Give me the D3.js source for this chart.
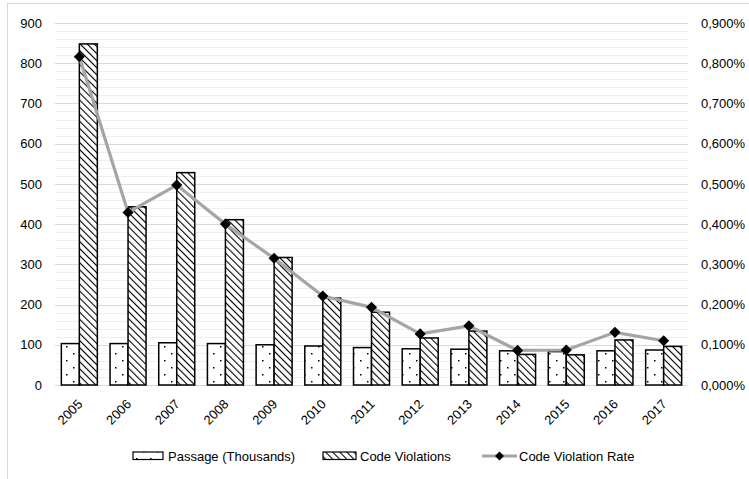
<!DOCTYPE html>
<html>
<head>
<meta charset="utf-8">
<script src="https://cdn.jsdelivr.net/npm/d3@7"></script>
<style>
  html, body { margin: 0; padding: 0; background: #fff; }
  svg { display: block; font-family: "Liberation Sans", Arial, sans-serif; }
</style>
</head>
<body>
<svg id="chart" width="749" height="479"></svg>
<script>
const years = ["2005","2006","2007","2008","2009","2010","2011","2012","2013","2014","2015","2016","2017"];
const passage = [103, 103, 105, 103, 100, 97, 93, 90, 89, 85, 83, 85, 87];
const violations = [848, 443, 528, 411, 317, 216, 181, 117, 134, 76, 75, 112, 96];
const rate = [0.816, 0.429, 0.497, 0.400, 0.315, 0.221, 0.193, 0.127, 0.147, 0.086, 0.087, 0.131, 0.110];
const leftTicks = [0, 100, 200, 300, 400, 500, 600, 700, 800, 900];
const rightTicks = [0, 0.1, 0.2, 0.3, 0.4, 0.5, 0.6, 0.7, 0.8, 0.9];
const legendLabels = ["Passage (Thousands)", "Code Violations", "Code Violation Rate"];

const svg = d3.select("#chart");
const plotL = 55, plotR = 688, plotT = 23, plotB = 385;

const x = d3.scaleBand().domain(years).range([plotL, plotR]).padding(0);
const y = d3.scaleLinear().domain([0, 900]).range([plotB, plotT]);
const y2 = d3.scaleLinear().domain([0, 0.9]).range([plotB, plotT]);

// patterns
const defs = svg.append("defs");
const dots = defs.append("pattern").attr("id", "dots").attr("patternUnits", "userSpaceOnUse")
  .attr("width", 14).attr("height", 14);
dots.append("rect").attr("width", 14).attr("height", 14).attr("fill", "#fff");
dots.append("rect").attr("x", 3).attr("y", 3).attr("width", 1.5).attr("height", 1.5).attr("fill", "#000");
dots.append("rect").attr("x", 10).attr("y", 10).attr("width", 1.5).attr("height", 1.5).attr("fill", "#000");

const hatch = defs.append("pattern").attr("id", "hatch").attr("patternUnits", "userSpaceOnUse")
  .attr("width", 5).attr("height", 5).attr("patternTransform", "rotate(-45)");
hatch.append("rect").attr("width", 5).attr("height", 5).attr("fill", "#fff");
hatch.append("line").attr("x1", 0).attr("y1", 0).attr("x2", 0).attr("y2", 5)
  .attr("stroke", "#000").attr("stroke-width", 2.2);

// frame
svg.append("rect").attr("x", 7.5).attr("y", 3.5).attr("width", 800).attr("height", 600)
  .attr("fill", "none").attr("stroke", "#d9d9d9").attr("stroke-width", 1);

// minor gridlines
const minor = d3.range(20, 900, 20).filter(v => v % 100 !== 0);
svg.append("g").selectAll("line").data(minor).join("line")
  .attr("x1", plotL).attr("x2", plotR)
  .attr("y1", d => Math.round(y(d)) + 0.5).attr("y2", d => Math.round(y(d)) + 0.5)
  .attr("stroke", "#efefef").attr("stroke-width", 1);
// major gridlines
svg.append("g").selectAll("line").data(leftTicks).join("line")
  .attr("x1", plotL).attr("x2", plotR)
  .attr("y1", d => Math.round(y(d)) + 0.5).attr("y2", d => Math.round(y(d)) + 0.5)
  .attr("stroke", "#d9d9d9").attr("stroke-width", 1.2);

// left axis
const yAxis = svg.append("g").attr("transform", `translate(${plotL},0)`)
  .call(d3.axisLeft(y).tickValues(leftTicks).tickSize(0).tickPadding(13));
yAxis.select(".domain").remove();
yAxis.selectAll("text").attr("font-size", 13).attr("fill", "#000");

// right axis
const fmtPct = v => d3.format(".3f")(v).replace(".", ",") + "%";
const y2Axis = svg.append("g").attr("transform", `translate(${plotR},0)`)
  .call(d3.axisRight(y2).tickValues(rightTicks).tickFormat(fmtPct).tickSize(0).tickPadding(13));
y2Axis.select(".domain").remove();
y2Axis.selectAll("text").attr("font-size", 13).attr("fill", "#000");

// bars
const bw = 18;
svg.append("g").selectAll("rect").data(years).join("rect")
  .attr("x", d => x(d) + x.bandwidth() / 2 - bw)
  .attr("y", (d, i) => y(passage[i]))
  .attr("width", bw)
  .attr("height", (d, i) => y(0) - y(passage[i]))
  .attr("fill", "url(#dots)").attr("stroke", "#000").attr("stroke-width", 1.5);
svg.append("g").selectAll("rect").data(years).join("rect")
  .attr("x", d => x(d) + x.bandwidth() / 2)
  .attr("y", (d, i) => y(violations[i]))
  .attr("width", bw)
  .attr("height", (d, i) => y(0) - y(violations[i]))
  .attr("fill", "url(#hatch)").attr("stroke", "#000").attr("stroke-width", 1.5);

// x axis labels
svg.append("g").selectAll("text").data(years).join("text")
  .attr("transform", d => `translate(${x(d) + x.bandwidth() / 2 + 4},405) rotate(-45)`)
  .attr("text-anchor", "end").attr("font-size", 13).attr("fill", "#000")
  .text(d => d);

// line
const line = d3.line().x((d, i) => x(years[i]) + x.bandwidth() / 2).y(d => y2(d));
svg.append("path").datum(rate).attr("d", line)
  .attr("fill", "none").attr("stroke", "#a5a5a5").attr("stroke-width", 3.2);
svg.append("g").selectAll("path").data(rate).join("path")
  .attr("transform", (d, i) => `translate(${x(years[i]) + x.bandwidth() / 2},${y2(d)}) rotate(45)`)
  .attr("d", d3.symbol().type(d3.symbolSquare).size(62)())
  .attr("fill", "#000");

// legend
const lg = svg.append("g");
lg.append("rect").attr("x", 133).attr("y", 452).attr("width", 30).attr("height", 7.5)
  .attr("fill", "url(#dots)").attr("stroke", "#000").attr("stroke-width", 1.2);
lg.append("text").attr("x", 168).attr("y", 461).attr("font-size", 13).text(legendLabels[0]);
lg.append("rect").attr("x", 323).attr("y", 452).attr("width", 33).attr("height", 7.5)
  .attr("fill", "url(#hatch)").attr("stroke", "#000").attr("stroke-width", 1.2);
lg.append("text").attr("x", 360).attr("y", 461).attr("font-size", 13).text(legendLabels[1]);
lg.append("line").attr("x1", 482).attr("x2", 517).attr("y1", 456).attr("y2", 456)
  .attr("stroke", "#a5a5a5").attr("stroke-width", 3.2);
lg.append("path").attr("transform", "translate(499.5,456) rotate(45)")
  .attr("d", d3.symbol().type(d3.symbolSquare).size(40)()).attr("fill", "#000");
lg.append("text").attr("x", 519).attr("y", 461).attr("font-size", 13).text(legendLabels[2]);
</script>
</body>
</html>
